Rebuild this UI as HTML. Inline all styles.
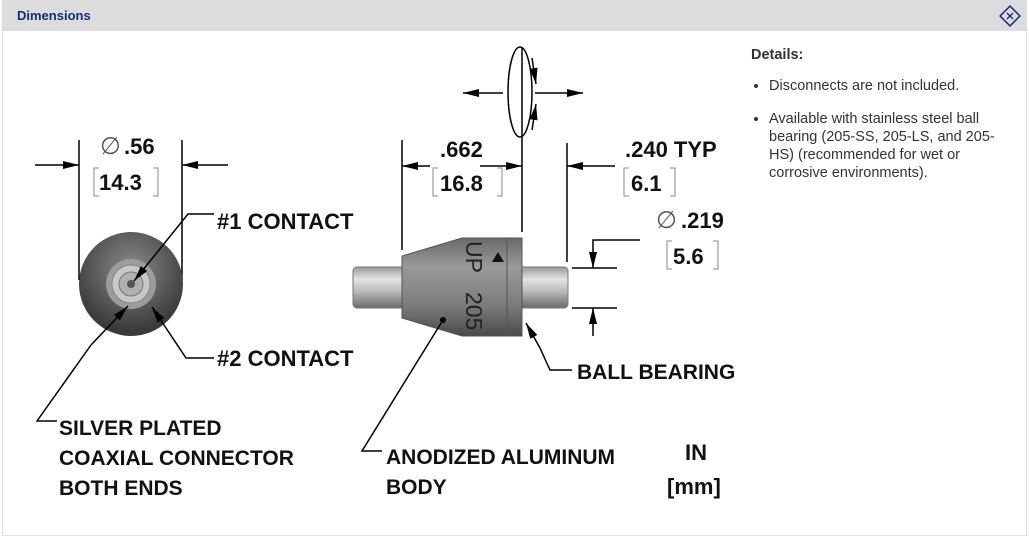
<!DOCTYPE html>
<html><head><meta charset="utf-8"><style>
body{margin:0;width:1029px;height:541px;background:#fff;overflow:hidden;font-family:"Liberation Sans",sans-serif}
.frame{position:absolute;left:2px;top:0;width:1025px;height:536px;border:1px solid #e2e2e2;box-sizing:border-box}
.hdr{position:absolute;left:2px;top:0;width:1025px;height:31px;background:#dcdcdc}
.hdr span{position:absolute;left:15px;top:8px;font-size:13px;font-weight:bold;color:#1a2a7a}
.det{position:absolute;left:751px;top:46px;color:#333;font-size:14.5px;line-height:18px}
.det b{display:block;margin-bottom:13px}
.det ul{margin:0;padding:0 0 0 18px}
.det li{margin-bottom:15px;width:238px}
</style></head><body>
<div class="frame"></div>
<div class="hdr"><span>Dimensions</span>
<svg style="position:absolute;left:997px;top:5px" width="22" height="22" viewBox="0 0 22 22"><rect x="4" y="4" width="14" height="14" transform="rotate(45 11 11)" fill="none" stroke="#1a2a7a" stroke-width="1.5"/><path d="M8 8L14 14M14 8L8 14" stroke="#1a2a7a" stroke-width="1.3"/></svg></div>
<div class="det"><b>Details:</b><ul><li>Disconnects are not included.</li><li>Available with stainless steel ball bearing (205-SS, 205-LS, and 205-<br>HS) (recommended for wet or corrosive environments).</li></ul></div>
<svg style="position:absolute;left:0;top:0" width="1029" height="541">
<defs>
<marker id="a" markerWidth="10" markerHeight="6" refX="10" refY="3" orient="auto" markerUnits="userSpaceOnUse" viewBox="0 0 10 6"><path d="M0 0L10 3L0 6z" fill="#000"/></marker>
<marker id="b" markerWidth="16" markerHeight="8" refX="16" refY="4" orient="auto" markerUnits="userSpaceOnUse" viewBox="0 0 16 8"><path d="M0 0L16 4L0 8z" fill="#000"/></marker>
<radialGradient id="g1" cx="0.5" cy="0.35" r="0.6"><stop offset="0" stop-color="#8a8a8a"/><stop offset="1" stop-color="#3a3a3a"/></radialGradient>
<linearGradient id="sh" x1="0" y1="0" x2="0" y2="1"><stop offset="0" stop-color="#9a9a9a"/><stop offset="0.3" stop-color="#e4e4e4"/><stop offset="0.6" stop-color="#b8b8b8"/><stop offset="1" stop-color="#6a6a6a"/></linearGradient>
<linearGradient id="bd" x1="0" y1="0" x2="0" y2="1"><stop offset="0" stop-color="#6a6a6a"/><stop offset="0.3" stop-color="#9a9a9a"/><stop offset="0.7" stop-color="#7a7a7a"/><stop offset="1" stop-color="#4a4a4a"/></linearGradient>
</defs>
<g stroke="#000" stroke-width="1.5" fill="none">
<line x1="79" y1="140" x2="79" y2="280"/><line x1="182" y1="140" x2="182" y2="280"/>
<line x1="35" y1="165" x2="79" y2="165" marker-end="url(#b)"/><line x1="228" y1="165" x2="182" y2="165" marker-end="url(#b)"/>
</g>
<circle cx="131" cy="284" r="52" fill="url(#g1)"/>
<circle cx="131" cy="284" r="25" fill="#9c9c9c"/>
<circle cx="131" cy="284" r="19" fill="#c8c8c8" stroke="#888"/>
<circle cx="131" cy="284" r="12" fill="#b0b0b0" stroke="#777"/>
<circle cx="131" cy="284" r="4" fill="#555"/>
<g stroke="#000" stroke-width="1.5" fill="none">
<polyline points="214,214 188,214 134,281" marker-end="url(#b)"/>
<polyline points="214,358 186,358 152,307" marker-end="url(#b)"/>
<polyline points="57,421 37,421 91,345"/>
<line x1="91" y1="345" x2="128" y2="306" marker-end="url(#b)"/>
</g>
<rect x="353" y="267" width="52" height="41" rx="4" fill="url(#sh)" stroke="#777"/>
<rect x="518" y="267" width="50" height="41" rx="4" fill="url(#sh)" stroke="#777"/>
<path d="M402 256L462 238L522 238L522 336L462 336L402 318Z" fill="url(#bd)" stroke="#555"/>
<line x1="507" y1="239" x2="507" y2="335" stroke="#555"/>
<text transform="translate(466,241) rotate(90)" font-size="23" fill="#222">UP</text>
<text transform="translate(466,292) rotate(90)" font-size="23" fill="#222">205</text>
<path d="M498 252L504 262L492 262Z" fill="#111"/>
<circle cx="443" cy="320" r="3" fill="#000"/>
<g stroke="#000" stroke-width="1.5" fill="none">
<line x1="522" y1="48" x2="522" y2="232"/>
<ellipse cx="520" cy="92" rx="12" ry="45"/>
<line x1="503" y1="93" x2="463" y2="93" marker-end="url(#b)"/>
<line x1="535" y1="93" x2="583" y2="93" marker-end="url(#b)"/>
<line x1="532" y1="58" x2="536" y2="84" marker-end="url(#b)"/>
<line x1="532" y1="130" x2="536" y2="104" marker-end="url(#b)"/>
<line x1="402" y1="140" x2="402" y2="250"/>
<line x1="430" y1="166" x2="402" y2="166" marker-end="url(#b)"/>
<line x1="480" y1="166" x2="522" y2="166" marker-end="url(#b)"/>
<line x1="567" y1="143" x2="567" y2="262"/>
<line x1="615" y1="166" x2="567" y2="166" marker-end="url(#b)"/>
<line x1="572" y1="268" x2="617" y2="268"/><line x1="572" y1="308" x2="617" y2="308"/>
<polyline points="640,240 593,240 593,268" marker-end="url(#b)"/>
<line x1="593" y1="336" x2="593" y2="308" marker-end="url(#b)"/>
<polyline points="572,370 550,370 540,348"/>
<line x1="540" y1="348" x2="526" y2="323" marker-end="url(#b)"/>
<polyline points="382,451 362,451 443,320"/>
</g>
<g font-family="Liberation Sans,sans-serif" font-weight="bold" font-size="22" fill="#111">
<text x="100" y="154" font-size="24" font-weight="normal" fill="#555">∅</text><text x="124" y="154">.56</text>
<text x="99" y="190">14.3</text>
<text x="217" y="229">#1 CONTACT</text>
<text x="217" y="366">#2 CONTACT</text>
<text x="59" y="435" font-size="21">SILVER PLATED</text>
<text x="59" y="465" font-size="21">COAXIAL CONNECTOR</text>
<text x="59" y="495" font-size="21">BOTH ENDS</text>
<text x="440" y="157">.662</text>
<text x="440" y="191">16.8</text>
<text x="625" y="157">.240  TYP</text>
<text x="631" y="191">6.1</text>
<text x="656" y="228" font-size="24" font-weight="normal" fill="#555">∅</text><text x="681" y="228">.219</text>
<text x="673" y="264">5.6</text>
<text x="577" y="379" font-size="21">BALL BEARING</text>
<text x="386" y="464" font-size="21">ANODIZED ALUMINUM</text>
<text x="386" y="494" font-size="21">BODY</text>
<text x="685" y="460">IN</text>
<text x="667" y="494">[mm]</text>
</g>
<g stroke="#888" stroke-width="1" fill="none">
<path d="M99 168h-5v28h5M153 168h5v28h-5"/>
<path d="M438 168h-5v28h5M497 168h5v28h-5"/>
<path d="M629 168h-5v28h5M670 168h5v28h-5"/>
<path d="M672 241h-5v28h5M713 241h5v28h-5"/>
</g>
</svg>
</body></html>
